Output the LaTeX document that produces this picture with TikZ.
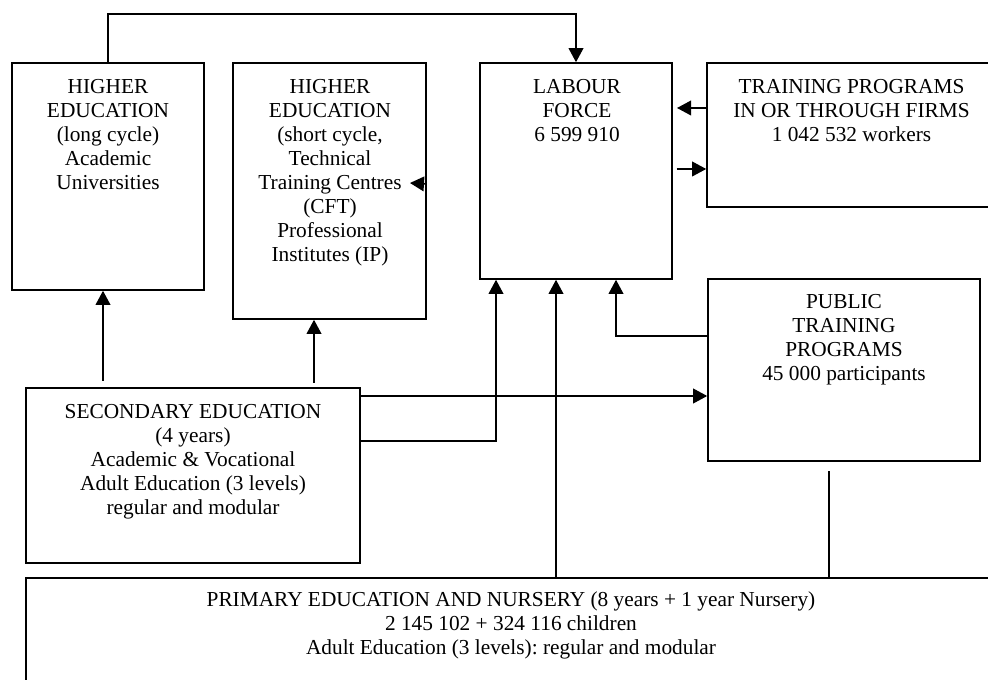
\documentclass[tikz,border=0pt]{standalone}
\usepackage{fontspec}
\setmainfont{Liberation Serif}
\usetikzlibrary{arrows.meta,fit}
\frenchspacing
\begin{document}
\begin{tikzpicture}[x=0.75pt,y=-0.75pt,
  box/.style={draw,line width=1.2pt,inner sep=0pt},
  blocktext/.style={anchor=north,align=center,inner sep=0pt,font=\fontsize{16}{18}\selectfont},
  link/.style={line width=1.1pt},
  arr/.style={link,-{Triangle[length=10.5pt,width=11pt]}}]
\useasboundingbox (0,0) rectangle (988,680);
\clip (0,0) rectangle (988,680);

% boxes
\node[box,fit={(12,63)(204,290)}] (he1) {};
\node[box,fit={(233,63)(426,319)}] (he2) {};
\node[box,fit={(480,63)(672,279)}] (lab) {};
\node[box,fit={(707,63)(996,207)}] (firm) {};
\node[box,fit={(708,279)(980,461)}] (pub) {};
\node[box,fit={(26,388)(360,563)}] (sec) {};
\node[box,fit={(26,578)(996,700)}] (pri) {};

% box texts
\node[blocktext] (he1t) at (108,76.2) {\strut HIGHER\\EDUCATION\\(long cycle)\\Academic\\Universities};
\node[blocktext] (he2t) at (330,76.2) {\strut HIGHER\\EDUCATION\\(short cycle,\\Technical\\Training Centres\\(CFT)\\Professional\\Institutes (IP)};
\node[blocktext] (labt) at (577,76.2) {\strut LABOUR\\FORCE\\6 599 910};
\node[blocktext] (firmt) at (851.5,76.2) {\strut TRAINING PROGRAMS\\IN OR THROUGH FIRMS\\1 042 532 workers};
\node[blocktext] (pubt) at (844,291.2) {\strut PUBLIC\\TRAINING\\PROGRAMS\\45 000 participants};
\node[blocktext] (sect) at (193,401.2) {\strut SECONDARY EDUCATION\\(4 years)\\Academic \& Vocational\\Adult Education (3 levels)\\regular and modular};
\node[blocktext] (prit) at (511,589.2) {\strut PRIMARY EDUCATION AND NURSERY (8 years + 1 year Nursery)\\2 145 102 + 324 116 children\\Adult Education (3 levels): regular and modular};

% helper rows and columns
\coordinate (row1) at (0,396);
\coordinate (row2) at (0,441);
\coordinate (row3) at (0,336);
\coordinate (col1) at (496,0);
\coordinate (col2) at (556,0);
\coordinate (col3) at (616,0);
\coordinate (labR1) at (677,108);
\coordinate (labR2) at (676.5,169);
\coordinate (s1) at (103,381);
\coordinate (s2) at (314,383);
\coordinate (prl) at (829,471);
\coordinate (stubA) at (426,184);
\coordinate (stubB) at (410,183);

% connectors
\draw[arr] (he1.north) -- ++(0,-48) -| (lab.north);
\draw[arr] (labR1 -| firm.west) -- (labR1);
\draw[arr] (labR2) -- (labR2 -| firm.west);
\draw[arr] (stubA) -- (stubB);
\draw[arr] (s1) -- (s1 |- he1.south);
\draw[arr] (s2) -- (s2 |- he2.south);
\draw[arr] (sec.east |- row1) -- (pub.west |- row1);
\draw[arr] (sec.east |- row2) -| (col1 |- lab.south);
\draw[arr] (col2 |- pri.north) -- (col2 |- lab.south);
\draw[arr] (pub.west |- row3) -| (col3 |- lab.south);
\draw[link] (prl) -- (prl |- pri.north);
\end{tikzpicture}
\end{document}
